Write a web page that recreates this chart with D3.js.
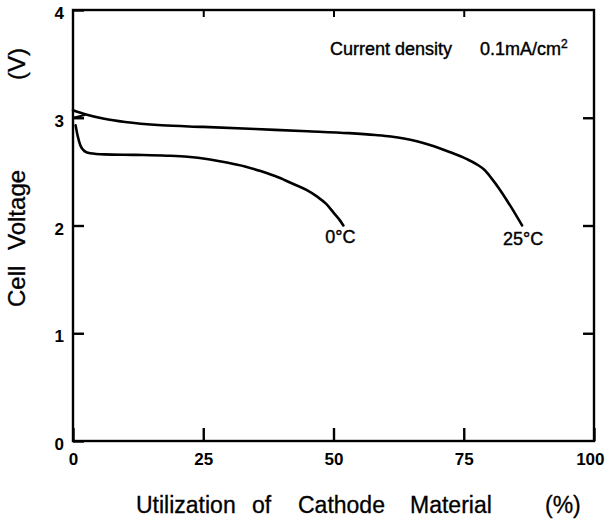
<!DOCTYPE html>
<html>
<head>
<meta charset="utf-8">
<script src="https://cdn.jsdelivr.net/npm/d3@7"></script>
<style>
  html, body { margin: 0; padding: 0; background: #fff; }
  svg { display: block; }
  text { font-family: "Liberation Sans", Arial, Helvetica, sans-serif; fill: #000; }
</style>
</head>
<body>
<svg id="chart" width="605" height="519"></svg>
<script>
// ---- data ----
const xTicks = [0, 25, 50, 75, 100];
const yTicks = [0, 1, 2, 3, 4];
const seriesNames = ["25°C", "0°C"];
// 25 °C discharge curve [utilization %, voltage V]
const curve25 = [
  [0, 3.07], [2.5, 3.03], [6, 2.99], [10, 2.96], [17, 2.93], [25, 2.915],
  [35, 2.895], [45, 2.875], [53, 2.857], [58, 2.84], [61, 2.826], [63.5, 2.808],
  [66, 2.782], [68.5, 2.748], [72.4, 2.68], [75.5, 2.618], [77.5, 2.568],
  [79, 2.515], [80.3, 2.44], [81.9, 2.335], [84.1, 2.17], [86.2, 2.0]
];
// small initial hook on the 25 °C curve
const hook25 = [[0, 3.0], [2.3, 3.025]];
// 0 °C discharge curve
const curve0 = [
  [0.5, 2.93], [0.9, 2.83], [1.4, 2.745], [2.2, 2.69], [3.3, 2.67], [6, 2.66],
  [12, 2.655], [18, 2.648], [22, 2.638], [26, 2.615], [29.5, 2.585],
  [33, 2.548], [36, 2.505], [39.5, 2.445], [42.3, 2.385], [44.8, 2.33],
  [46.8, 2.27], [48.6, 2.2], [50, 2.12], [51.2, 2.05], [51.9, 2.0]
];
const annotation = "Current density";
const annotationValue = "0.1mA/cm";

// ---- layout ----
const svg = d3.select("#chart");
const x = d3.scaleLinear().domain([0, 100]).range([73, 594]);
const y = d3.scaleLinear().domain([0, 4]).range([441, 10]);
const sw = 2.4;
const font = "Liberation Sans, Arial, sans-serif";

const line = d3.line()
  .x(d => x(d[0])).y(d => y(d[1]))
  .curve(d3.curveMonotoneX);

// frame
svg.append("rect")
  .attr("x", x(0)).attr("y", y(4))
  .attr("width", x(100) - x(0)).attr("height", y(0) - y(4))
  .attr("fill", "none").attr("stroke", "#000").attr("stroke-width", sw);

// bottom axis (ticks inward)
const gx = svg.append("g").attr("transform", `translate(0,${y(0)})`)
  .call(d3.axisBottom(x).tickValues(xTicks).tickFormat(d3.format("d"))
    .tickSizeInner(-13).tickSizeOuter(0));
gx.select(".domain").remove();
gx.selectAll(".tick line").attr("stroke", "#000").attr("stroke-width", sw);
gx.selectAll(".tick text")
  .attr("font-size", "17px").attr("font-weight", "bold")
  .attr("font-family", font)
  .attr("dy", "0.71em")
  .attr("y", 12)
  .attr("text-anchor", d => d === 100 ? "end" : "middle")
  .attr("dx", d => d === 100 ? 10 : 0);

// top axis ticks (inward, short)
const gt = svg.append("g").attr("transform", `translate(0,${y(4)})`)
  .call(d3.axisTop(x).tickValues([25, 50, 75]).tickSizeInner(-7).tickSizeOuter(0).tickFormat(""));
gt.select(".domain").remove();
gt.selectAll(".tick line").attr("stroke", "#000").attr("stroke-width", 2);

// left axis (ticks inward)
const gy = svg.append("g").attr("transform", `translate(${x(0)},0)`)
  .call(d3.axisLeft(y).tickValues(yTicks).tickFormat(d3.format("d"))
    .tickSizeInner(-11).tickSizeOuter(0));
gy.select(".domain").remove();
gy.selectAll(".tick line").attr("stroke", "#000").attr("stroke-width", sw);
gy.selectAll(".tick text")
  .attr("font-size", "17px").attr("font-weight", "bold")
  .attr("font-family", font)
  .attr("x", -9).attr("dy", "0.5em");

// right axis ticks (inward)
const gr = svg.append("g").attr("transform", `translate(${x(100)},0)`)
  .call(d3.axisRight(y).tickValues([1, 2, 3]).tickSizeInner(-11).tickSizeOuter(0).tickFormat(""));
gr.select(".domain").remove();
gr.selectAll(".tick line").attr("stroke", "#000").attr("stroke-width", sw);

// curves
[curve25, curve0].forEach(c => {
  svg.append("path").datum(c).attr("d", line)
    .attr("fill", "none").attr("stroke", "#000").attr("stroke-width", 2.6)
    .attr("stroke-linejoin", "round").attr("stroke-linecap", "round");
});
svg.append("path").datum(hook25).attr("d", d3.line().x(d => x(d[0])).y(d => y(d[1])))
  .attr("fill", "none").attr("stroke", "#000").attr("stroke-width", 2);

// curve labels
const endPts = [curve25[curve25.length - 1], curve0[curve0.length - 1]];
seriesNames.forEach((n, i) => {
  svg.append("text")
    .attr("x", x(endPts[i][0]) + (i === 0 ? 1 : -3))
    .attr("y", y(endPts[i][1]) + (i === 0 ? 19 : 17))
    .attr("text-anchor", "middle")
    .attr("font-size", "18px")
    .attr("stroke", "#000").attr("stroke-width", 0.4)
    .text(n);
});

// annotation
const ann = svg.append("text").attr("x", 330).attr("y", 55).attr("font-size", "18px")
  .attr("stroke", "#000").attr("stroke-width", 0.4);
ann.append("tspan").text(annotation);
ann.append("tspan").attr("x", 480).text(annotationValue);
ann.append("tspan").attr("dy", -7).attr("font-size", "12px").text("2");

// x-axis title
const xt = svg.append("text").attr("y", 513).attr("font-size", "23px")
  .attr("stroke", "#000").attr("stroke-width", 0.3);
[["Utilization", 136], ["of", 252], ["Cathode", 298], ["Material", 410], ["(%)", 545]]
  .forEach(([w, px]) => xt.append("tspan").attr("x", px).text(w));

// y-axis title
[["Cell", 307], ["Voltage", 250], ["(V)", 80]].forEach(([w, py]) => {
  svg.append("text")
    .attr("transform", `translate(25,${py}) rotate(-90)`)
    .attr("font-size", "24px")
    .attr("stroke", "#000").attr("stroke-width", 0.3)
    .text(w);
});
</script>
</body>
</html>
